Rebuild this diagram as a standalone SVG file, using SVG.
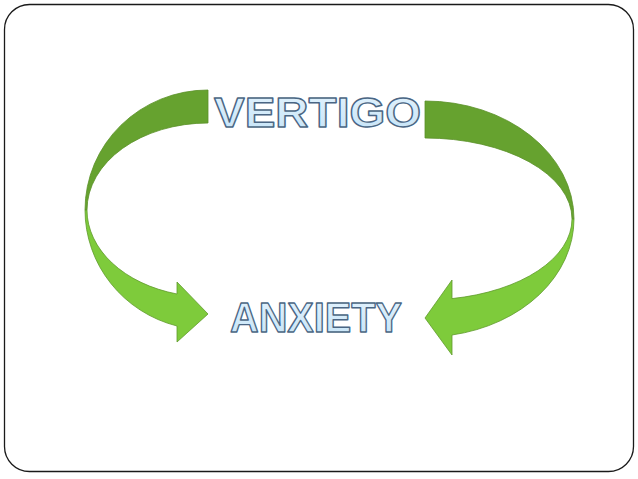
<svg xmlns="http://www.w3.org/2000/svg" width="638" height="479" viewBox="0 0 638 479">
  <defs>
    <linearGradient id="txtFill" x1="0" y1="0" x2="0" y2="1">
      <stop offset="0" stop-color="#e4f3fd"/>
      <stop offset="1" stop-color="#c4e3f7"/>
    </linearGradient>
    <style>
      .frame { fill: #ffffff; stroke: #1a1a1a; stroke-width: 1.3; }
      .dark { fill: #66a22f; stroke: #5a9128; stroke-width: 0.8; stroke-linejoin: round; }
      .light { fill: #7ecb3b; stroke: #5f9a2c; stroke-width: 0.8; stroke-linejoin: round; }
      .word { font-family: "Liberation Sans", Arial, sans-serif; font-weight: bold; fill: url(#txtFill); stroke: #4a6684; stroke-width: 1.4; stroke-linejoin: round; }
    </style>
  </defs>
  <rect class="frame" x="4.5" y="4.5" width="629" height="467" rx="25" ry="25"/>
  <g id="connectors">
    <g id="arrow-left">
      <path class="dark" d="M208,90 A123,120 0 0 0 85,210 L87,210 A121,87 0 0 1 208,123 Z"/>
      <path class="light" d="M85,210 A123,120 0 0 0 177,326 L177,342 L208,314 L177,282 L177,294 A121,87 0 0 1 87,210 Z"/>
    </g>
    <g id="arrow-right">
      <path class="dark" d="M425,101 A149,118 0 0 1 574,219 L572,219 A147,81 0 0 0 425,138 Z"/>
      <path class="light" d="M574,219 A149,118 0 0 1 452,335 L452,355 L425,318 L452,280 L452,298.6 A147,81 0 0 0 572,219 Z"/>
    </g>
  </g>
  <g id="vertigo">
    <text class="word" x="214" y="127" font-size="43" textLength="207" lengthAdjust="spacingAndGlyphs">VERTIGO</text>
  </g>
  <g id="anxiety">
    <text class="word" x="230" y="332" font-size="42" textLength="172" lengthAdjust="spacingAndGlyphs">ANXIETY</text>
  </g>
</svg>
